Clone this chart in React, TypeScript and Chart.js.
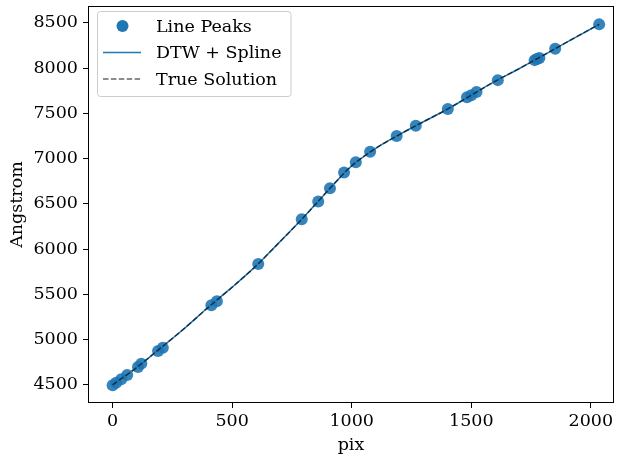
import React, { useEffect, useRef } from "react";
import { Chart, registerables } from "chart.js";

Chart.register(...registerables);

// Detected arc-lamp line peaks: pixel position and wavelength (Angstrom)
const peakPix = [0, 15, 36, 61, 106, 120, 190, 210, 413, 436, 609, 791, 860, 909, 968, 1017, 1077, 1188, 1268, 1402, 1482, 1500, 1522, 1611, 1765, 1775, 1785, 1851, 2035];
const peakWave = [4497, 4525, 4563, 4610, 4698, 4735, 4874, 4911, 5380, 5425, 5836, 6331, 6526, 6673, 6846, 6959, 7077, 7250, 7363, 7547, 7678, 7700, 7736, 7867, 8088, 8100, 8112, 8215, 8483];

// Fitted DTW + spline wavelength solution
const splinePix = [0, 100, 200, 300, 400, 500, 600, 700, 800, 900, 1000, 1100, 1200, 1300, 1400, 1500, 1600, 1700, 1800, 1900, 2000, 2035];
const splineWave = [4500, 4690, 4905, 5123, 5358, 5580, 5815, 6083, 6355, 6646, 6920, 7113, 7267, 7407, 7545, 7700, 7855, 7993, 8138, 8286, 8432, 8483];

// Reference (true) wavelength solution
const truePix = [0, 100, 200, 300, 400, 500, 600, 700, 800, 900, 1000, 1100, 1200, 1300, 1400, 1500, 1600, 1700, 1800, 1900, 2000, 2035];
const trueWave = [4500, 4691, 4906, 5124, 5357, 5579, 5816, 6082, 6354, 6645, 6921, 7112, 7266, 7408, 7546, 7700, 7854, 7994, 8139, 8287, 8433, 8484];

const xTicks = [0, 500, 1000, 1500, 2000];
const yTicks = [4500, 5000, 5500, 6000, 6500, 7000, 7500, 8000, 8500];

const legendLabels = ["Line Peaks", "DTW + Spline", "True Solution"];

const BLUE = "#1f77b4";
const FONT = '"DejaVu Serif", serif';
const FS = 17.5;

const toXY = (xs: number[], ys: number[]) => xs.map((x, i) => ({ x, y: ys[i] }));

// Axes frame (all four spines) and an in-axes legend
const framePlugin = {
  id: "frameAndLegend",
  afterDatasetsDraw(chart: any) {
    const { ctx, chartArea } = chart;
    const { left, top, right, bottom } = chartArea;
    ctx.save();
    ctx.strokeStyle = "#000";
    ctx.lineWidth = 1;
    ctx.strokeRect(left + 0.5, top + 0.5, right - left - 1, bottom - top - 1);

    // legend box
    const bx = 97.5, by = 11.5, bw = 193.5, bh = 85, r = 3;
    ctx.beginPath();
    ctx.moveTo(bx + r, by);
    ctx.lineTo(bx + bw - r, by);
    ctx.arcTo(bx + bw, by, bx + bw, by + r, r);
    ctx.lineTo(bx + bw, by + bh - r);
    ctx.arcTo(bx + bw, by + bh, bx + bw - r, by + bh, r);
    ctx.lineTo(bx + r, by + bh);
    ctx.arcTo(bx, by + bh, bx, by + bh - r, r);
    ctx.lineTo(bx, by + r);
    ctx.arcTo(bx, by, bx + r, by, r);
    ctx.closePath();
    ctx.fillStyle = "rgba(255,255,255,0.8)";
    ctx.fill();
    ctx.strokeStyle = "#cccccc";
    ctx.stroke();

    const rows = [26, 52.5, 79];
    // marker
    ctx.beginPath();
    ctx.arc(122.5, rows[0], 6, 0, Math.PI * 2);
    ctx.fillStyle = BLUE;
    ctx.fill();
    // solid line
    ctx.beginPath();
    ctx.moveTo(103, rows[1]);
    ctx.lineTo(141, rows[1]);
    ctx.strokeStyle = BLUE;
    ctx.lineWidth = 1.5;
    ctx.stroke();
    // dashed line
    ctx.beginPath();
    ctx.setLineDash([5.5, 2.4]);
    ctx.moveTo(103, rows[2]);
    ctx.lineTo(141, rows[2]);
    ctx.strokeStyle = "rgba(0,0,0,0.6)";
    ctx.stroke();
    ctx.setLineDash([]);

    ctx.fillStyle = "#000";
    ctx.font = `${FS}px ${FONT}`;
    ctx.textBaseline = "middle";
    ctx.textAlign = "left";
    legendLabels.forEach((t, i) => ctx.fillText(t, 156, rows[i] + 1));
    ctx.restore();
  },
};

export default function App() {
  const canvasRef = useRef<HTMLCanvasElement | null>(null);

  useEffect(() => {
    const canvas = canvasRef.current;
    if (!canvas) return;
    const tickGrid = {
      drawOnChartArea: false,
      drawTicks: true,
      tickLength: 5,
      tickColor: "#000",
      tickWidth: 1,
    };
    const chart = new Chart(canvas, {
      type: "scatter",
      data: {
        datasets: [
          {
            label: legendLabels[2],
            data: toXY(truePix, trueWave),
            showLine: true,
            borderColor: "rgba(0,0,0,0.6)",
            borderWidth: 1.5,
            borderDash: [5.5, 2.4],
            pointRadius: 0,
            cubicInterpolationMode: "monotone",
            order: 0,
          } as any,
          {
            label: legendLabels[1],
            data: toXY(splinePix, splineWave),
            showLine: true,
            borderColor: BLUE,
            borderWidth: 1.5,
            pointRadius: 0,
            cubicInterpolationMode: "monotone",
            order: 1,
          } as any,
          {
            label: legendLabels[0],
            data: toXY(peakPix, peakWave),
            showLine: false,
            pointRadius: 6,
            pointBackgroundColor: "rgba(31,119,180,0.9)",
            pointBorderWidth: 0,
            pointBorderColor: "rgba(0,0,0,0)",
            order: 2,
          } as any,
        ],
      },
      options: {
        responsive: false,
        animation: false,
        events: [],
        layout: { padding: { top: 3, right: 10, left: 0, bottom: 0 } },
        plugins: {
          legend: { display: false },
          tooltip: { enabled: false },
        },
        scales: {
          x: {
            type: "linear",
            min: -103,
            max: 2097,
            afterBuildTicks: (s: any) => {
              s.ticks = xTicks.map((v) => ({ value: v }));
            },
            afterFit: (s: any) => {
              s.height = 53;
              s.paddingLeft = 0;
              s.paddingRight = 0;
            },
            grid: tickGrid,
            border: { display: false },
            ticks: {
              color: "#000",
              font: { family: FONT, size: FS },
              padding: 3,
              maxRotation: 0,
              autoSkip: false,
              callback: (v: any) => String(v),
            },
            title: {
              display: true,
              text: "pix",
              color: "#000",
              font: { family: FONT, size: FS },
              padding: { top: 0, bottom: 0.5 },
            },
          },
          y: {
            type: "linear",
            min: 4300,
            max: 8686,
            afterBuildTicks: (s: any) => {
              s.ticks = yTicks.map((v) => ({ value: v }));
            },
            afterFit: (s: any) => {
              s.width = 88;
              s.paddingTop = 0;
              s.paddingBottom = 0;
            },
            grid: tickGrid,
            border: { display: false },
            ticks: {
              color: "#000",
              font: { family: FONT, size: FS },
              padding: 5,
              autoSkip: false,
              callback: (v: any) => String(v),
            },
            title: {
              display: true,
              text: "Angstrom",
              color: "#000",
              font: { family: FONT, size: FS },
              padding: { top: 6.5, bottom: 0 },
            },
          },
        },
      } as any,
      plugins: [framePlugin],
    });
    return () => chart.destroy();
  }, []);

  return (
    <div style={{ position: "absolute", left: 0, top: 0, width: 624, height: 456, background: "#fff" }}>
      <canvas ref={canvasRef} width={624} height={456} style={{ display: "block" }} />
    </div>
  );
}
